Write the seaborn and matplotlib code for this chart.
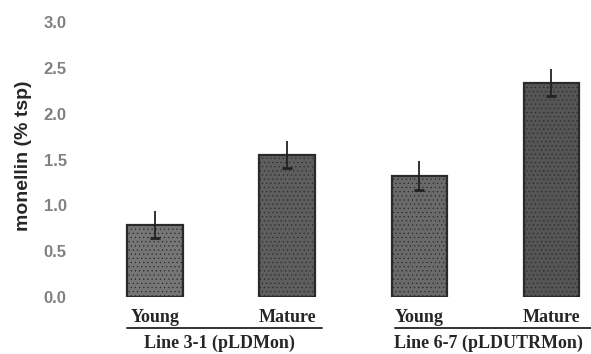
import pandas as pd
import seaborn as sns
import matplotlib.pyplot as plt

# values
bar_ids = ['L31_young', 'L31_mature', 'L67_young', 'L67_mature']
stage = ['Young', 'Mature', 'Young', 'Mature']
monellin = [0.79, 1.55, 1.32, 2.34]
err_low = [0.64, 1.41, 1.17, 2.19]
err_high = [0.94, 1.70, 1.48, 2.49]
groups = ['Line 3-1 (pLDMon)', 'Line 6-7 (pLDUTRMon)']
yticks = [0.0, 0.5, 1.0, 1.5, 2.0, 2.5, 3.0]

df = pd.DataFrame({'bar': bar_ids, 'stage': stage, 'monellin': monellin})

sns.set_style('white')
plt.rcParams['hatch.linewidth'] = 0.4
fig = plt.figure(figsize=(5.91, 3.54), dpi=100)
ax = fig.add_axes([100 / 591, 57 / 354, 491 / 591, 282 / 354])

sns.barplot(data=df, x='bar', y='monellin', order=bar_ids, ax=ax,
            palette=['#767676', '#5e5e5e', '#6a6a6a', '#555555'], hue='bar',
            legend=False, errorbar=None, width=0.42,
            edgecolor='#2a2a2a', linewidth=1.6)
# grainy look of the scanned bars
for p in ax.patches:
    p.set_hatch('....')

# error bars: line up from the cap, small cap at the low end
xs = range(len(bar_ids))
ax.vlines(xs, err_low, err_high, color='#222222', linewidth=1.3)
ax.plot(xs, err_low, linestyle='none', marker='_', markersize=7,
        markeredgewidth=2, color='#222222')

ax.set_xlim(-0.417, 3.30)
ax.set_ylim(0, 3.08)
ax.set_yticks(yticks)
ax.set_yticklabels([f'{t:.1f}' for t in yticks], color='#808080',
                   fontweight='bold', fontsize=12, family='Liberation Sans')
ax.tick_params(axis='y', length=0, pad=24)
ax.set_xticks(list(xs))
ax.set_xticklabels(stage, fontsize=13, fontweight='bold', family='Liberation Serif')
ax.tick_params(axis='x', length=0, pad=9)
ax.set_xlabel('')
ax.set_ylabel('monellin (% tsp)', fontsize=14, fontweight='bold',
              family='Liberation Sans', labelpad=8)
for s in ax.spines.values():
    s.set_visible(False)

# group underline and labels
trans = ax.get_xaxis_transform()
for (x0, x1), name in zip([(-0.21, 1.26), (1.82, 3.30)], groups):
    ax.plot([x0, x1], [-0.11, -0.11], transform=trans, color='#333333',
            linewidth=1.4, clip_on=False)
    ax.text((x0 + x1) / 2 - 0.04, -0.163, name, transform=trans, ha='center',
            va='center', fontsize=13, fontweight='bold',
            family='Liberation Serif')

fig.savefig('out.png', dpi=100)
